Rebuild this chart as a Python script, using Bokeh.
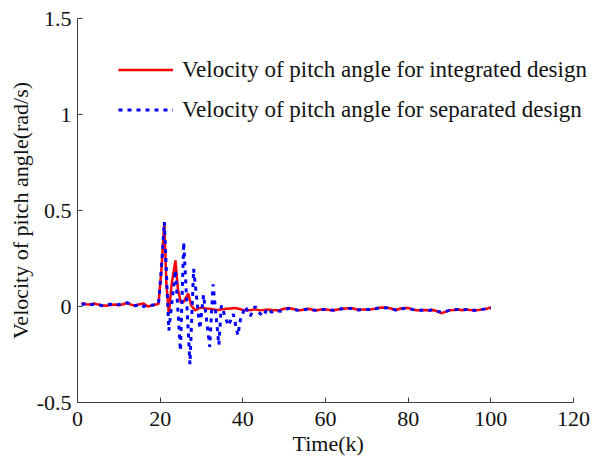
from bokeh.plotting import figure
from bokeh.models import Range1d, FixedTicker, Legend, LegendItem, Title
from bokeh.embed import file_html
from bokeh.resources import INLINE

# ---- data ----
x_ticks = [0, 20, 40, 60, 80, 100, 120]
y_ticks = [-0.5, 0, 0.5, 1, 1.5]
y_tick_labels = {-0.5: "-0.5", 0: "0", 0.5: "0.5", 1: "1", 1.5: "1.5"}

t_integrated = [1, 2, 3, 4, 5, 6, 7, 8, 9, 10, 11, 12, 13, 14, 15, 16, 17, 18, 19,
                19.6, 20.3, 21, 21.5, 22.1, 22.8, 23.7, 24.3, 25, 25.7, 26.8, 27.5,
                28.5, 29.3, 30.1, 31, 32, 33, 34, 35, 36, 37, 38, 39, 40, 41, 42, 43,
                44, 45, 46, 47, 48, 49, 50, 51, 52, 53, 54, 55, 56, 57, 58, 59, 60,
                61, 62, 63, 64, 65, 66, 67, 68, 69, 70, 71, 72, 73, 74, 75, 76, 77,
                78, 79, 80, 81, 82, 83, 84, 85, 86, 87, 88, 89, 90, 91, 92, 93, 94,
                95, 96, 97, 98, 99, 100]
v_integrated = [0.018, 0.012, 0.01, 0.016, 0.01, 0.006, 0.004, 0.008, 0.01, 0.006,
                0.012, 0.018, 0.01, 0.004, 0.012, 0.016, 0.0, 0.006, 0.01,
                0.014, 0.19, 0.44, 0.12, -0.04, 0.12, 0.24, 0.09, 0.02, 0.025, 0.068, 0.005,
                -0.02, -0.01, -0.005, -0.01, -0.012, -0.016, -0.018, -0.015, -0.012,
                -0.01, -0.008, -0.012, -0.018, -0.02, -0.018, -0.015, -0.02, -0.018,
                -0.015, -0.018, -0.02, -0.018, -0.012, -0.008, -0.012, -0.018, -0.02,
                -0.015, -0.012, -0.018, -0.02, -0.015, -0.015, -0.018, -0.02, -0.016,
                -0.012, -0.01, -0.008, -0.012, -0.018, -0.015, -0.016, -0.015, -0.012,
                -0.006, -0.005, -0.006, -0.012, -0.018, -0.012, -0.008, -0.008, -0.015,
                -0.02, -0.02, -0.018, -0.02, -0.018, -0.025, -0.035, -0.028, -0.02,
                -0.018, -0.015, -0.02, -0.015, -0.018, -0.02, -0.018, -0.015, -0.012,
                -0.004]

t_separated = [1, 2, 3, 4, 5, 6, 7, 8, 9, 10, 11, 12, 13, 14, 15, 16, 17, 18, 19,
               19.6, 20.3, 21, 22.1, 23.7, 24.9, 25.7, 27.2, 28.1, 29.6, 30.5, 32,
               32.8, 34.2, 34.8, 36.5, 37.7, 38.8, 39.4, 40.6, 41.8, 43, 43.8, 45,
               45.9, 47, 48, 49, 50, 51, 52, 53, 54, 55, 56, 57, 58, 59, 60, 61, 62,
               63, 64, 65, 66, 67, 68, 69, 70, 71, 72, 73, 74, 75, 76, 77, 78, 79,
               80, 81, 82, 83, 84, 85, 86, 87, 88, 89, 90, 91, 92, 93, 94, 95, 96,
               97, 98, 99, 100]
v_separated = [0.01, 0.015, 0.008, 0.012, 0.01, 0.004, 0.01, 0.012, 0.008, 0.01,
               0.014, 0.02, 0.008, 0.004, 0.012, 0.0, 0.008, 0.006, 0.01,
               0.014, 0.2, 0.44, -0.125, 0.19, -0.23, 0.335, -0.3, 0.196, -0.116,
               0.06, -0.21, 0.115, -0.2, 0.005, -0.1, -0.04, -0.15, -0.07, 0.0,
               -0.05, 0.0, -0.03, -0.05, -0.01, -0.03, -0.02, -0.025, -0.02, -0.01,
               -0.012, -0.018, -0.02, -0.016, -0.012, -0.018, -0.02, -0.015, -0.016,
               -0.018, -0.02, -0.016, -0.012, -0.01, -0.01, -0.012, -0.018, -0.015,
               -0.016, -0.015, -0.012, -0.008, -0.006, -0.008, -0.012, -0.018,
               -0.012, -0.01, -0.01, -0.015, -0.02, -0.02, -0.018, -0.02, -0.018,
               -0.024, -0.03, -0.026, -0.02, -0.018, -0.015, -0.02, -0.015, -0.018,
               -0.02, -0.018, -0.015, -0.012, -0.008]

label_integrated = "Velocity of pitch angle for integrated design"
label_separated = "Velocity of pitch angle for separated design"
x_label = "Time(k)"
y_label = "Velocity of pitch angle(rad/s)"

FONT = "Liberation Serif"
FS = "22px"

p = figure(width=594, height=457, output_backend="svg", toolbar_location=None,
           x_range=Range1d(0, 124.6), y_range=Range1d(-0.5, 1.5),
           min_border_left=77, min_border_right=2, min_border_top=18,
           min_border_bottom=55)
p.outline_line_color = None
p.xgrid.visible = False
p.ygrid.visible = False
p.background_fill_color = "white"
p.border_fill_color = "white"

r1 = p.line(t_integrated, v_integrated, line_color="#FF0000", line_width=2.5)
r2 = p.line(t_separated, v_separated, line_color="#0000FF", line_width=3,
            line_dash="4 5")

for ax in (p.xaxis[0], p.yaxis[0]):
    ax.axis_line_color = "#404040"
    ax.major_tick_line_color = "#404040"
    ax.major_tick_in = 5
    ax.major_tick_out = 0
    ax.minor_tick_line_color = None
    ax.major_label_text_font = FONT
    ax.major_label_text_font_size = FS
    ax.major_label_text_color = "#111111"
    ax.major_label_text_line_height = 0.95
    ax.axis_label_text_font = FONT
    ax.axis_label_text_font_size = FS
    ax.axis_label_text_font_style = "normal"
    ax.axis_label_text_color = "#111111"

p.xaxis[0].ticker = FixedTicker(ticks=x_ticks)
p.xaxis[0].bounds = (0, 120)
p.yaxis[0].ticker = FixedTicker(ticks=y_ticks)
p.yaxis[0].major_label_overrides = y_tick_labels
p.xaxis[0].major_label_standoff = 9
p.yaxis[0].major_label_standoff = 6
p.yaxis[0].axis_label = y_label
p.yaxis[0].axis_label_standoff = 1

xtitle = Title(text=x_label, align="left", offset=215, standoff=0,
               text_font=FONT, text_font_size=FS, text_font_style="normal",
               text_color="#111111", text_line_height=0.75)
p.add_layout(xtitle, "below")

legend = Legend(items=[LegendItem(label=label_integrated, renderers=[r1]),
                       LegendItem(label=label_separated, renderers=[r2])],
                location=(41, 279))
legend.border_line_alpha = 0
legend.background_fill_alpha = 0
legend.padding = 0
legend.margin = 0
legend.glyph_width = 55
legend.glyph_height = 27
legend.label_height = 27
legend.label_standoff = 9
legend.spacing = 13
legend.label_text_font = FONT
legend.label_text_font_size = "23px"
legend.label_text_color = "#111111"
p.add_layout(legend)

open("out.html", "w").write(file_html(p, INLINE))
